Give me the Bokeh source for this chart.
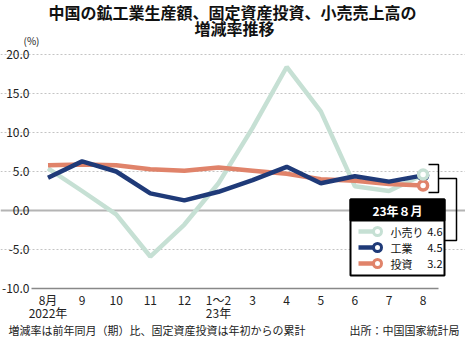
import numpy as np
from bokeh.plotting import figure
from bokeh.models import (Range1d, FixedTicker, PrintfTickFormatter, Grid, LinearAxis)
from bokeh.core.properties import value
from bokeh.embed import file_html
from bokeh.resources import INLINE

# ---- data ----
months = ["8月", "9", "10", "11", "12", "1～2", "3", "4", "5", "6", "7", "8"]
year_labels = {0: "2022年", 5: "23年"}
retail = [5.4, 2.5, -0.5, -5.9, -1.8, 3.5, 10.6, 18.4, 12.7, 3.1, 2.5, 4.6]
industry = [4.2, 6.3, 5.0, 2.2, 1.3, 2.4, 3.9, 5.6, 3.5, 4.4, 3.7, 4.5]
investment = [5.8, 5.9, 5.8, 5.3, 5.1, 5.5, 5.1, 4.7, 4.0, 3.8, 3.4, 3.2]
series_names = ["小売り", "工業", "投資"]
y_ticks = [-10, -5, 0, 5, 10, 15, 20]
title_lines = ["中国の鉱工業生産額、固定資産投資、小売売上高の", "増減率推移"]
unit_label = "(%)"
legend_title = "23年８月"
note_left = "増減率は前年同月（期）比、固定資産投資は年初からの累計"
note_right = "出所：中国国家統計局"

C_RETAIL = "#c6e0d4"
C_IND = "#1f3a78"
C_INV = "#e0836a"
FONT = "Noto Sans CJK JP"

x = np.arange(len(months))

# pixel -> data helpers (for decorations only)
X0, DX = 47.5, 34.1
Y0, DY = 210.0, 7.8
def X(px):
    return (px - X0) / DX
def Y(py):
    return (Y0 - py) / DY

p = figure(width=465, height=340, output_backend="svg", toolbar_location=None, title=None,
           x_range=Range1d(X(0), X(465)), y_range=Range1d(Y(340), Y(0)),
           x_axis_type=None, y_axis_type=None, min_border=0)
p.outline_line_color = None
p.background_fill_color = "white"
p.border_fill_color = "white"
p.xgrid.visible = False
p.ygrid.visible = False

def style_axis(ax, size="12px"):
    ax.major_tick_line_color = None
    ax.minor_tick_line_color = None
    ax.major_tick_out = 0
    ax.major_tick_in = 0
    ax.major_label_text_font = FONT
    ax.major_label_text_font_size = size
    ax.major_label_text_color = "#222222"

# y axis
yax = LinearAxis(fixed_location=X(31), ticker=FixedTicker(ticks=y_ticks),
                 formatter=PrintfTickFormatter(format="%.1f"))
style_axis(yax)
yax.axis_line_color = None
yax.major_label_standoff = 2
p.add_layout(yax, "left")

# x axis (month labels)
xax = LinearAxis(fixed_location=y_ticks[0], ticker=FixedTicker(ticks=list(x)),
                 major_label_overrides={int(i): m for i, m in zip(x, months)},
                 bounds=(X(31), X(438)))
style_axis(xax)
xax.axis_line_color = "#888888"
xax.axis_line_width = 1.5
xax.major_label_standoff = 2
p.add_layout(xax, "below")

# year labels
yrax = LinearAxis(fixed_location=y_ticks[0], ticker=FixedTicker(ticks=list(year_labels.keys())),
                  major_label_overrides=year_labels)
style_axis(yrax)
yrax.axis_line_color = None
yrax.major_label_standoff = 15
p.add_layout(yrax, "below")

# grids
g = Grid(dimension=1, ticker=FixedTicker(ticks=[t for t in y_ticks if t not in (0, -10)]),
         grid_line_color="#c4c4c4", grid_line_dash="2 2", grid_line_width=1,
         bounds=(X(31), X(446)))
p.add_layout(g)
g0 = Grid(dimension=1, ticker=FixedTicker(ticks=[0]), grid_line_color="#b4b4b4",
          grid_line_width=2, bounds=(X(31), X(446)))
p.add_layout(g0)

# lines
p.line(x, retail, line_color=C_RETAIL, line_width=4.5)
p.line(x, investment, line_color=C_INV, line_width=4.5)
p.line(x, industry, line_color=C_IND, line_width=4.5)

# end markers
p.scatter([x[-1]], [industry[-1]], size=9, fill_color="white", line_color=C_IND, line_width=3.5)
p.scatter([x[-1]], [investment[-1]], size=9, fill_color="white", line_color=C_INV, line_width=3.5)
p.scatter([x[-1]], [retail[-1]], size=9, fill_color="white", line_color=C_RETAIL, line_width=3.5)

# bracket and connector
p.line([X(428), X(438), X(438), X(428)], [Y(164), Y(164), Y(192), Y(192)],
       line_color="black", line_width=1.5)
p.line([X(438), X(456), X(456), X(444)], [Y(178), Y(178), Y(240), Y(240)],
       line_color="black", line_width=1.5)

# legend box
p.quad(left=X(350), right=X(444), top=Y(199), bottom=Y(275),
       fill_color="white", line_color="black", line_width=2)
p.quad(left=X(350), right=X(444), top=Y(199), bottom=Y(220),
       fill_color="black", line_color="black", line_width=2)

def txt(px, py, s, size, align="left", bold=False, color="#111111"):
    p.text([X(px)], [Y(py)], text=[s], text_font=value(FONT), text_font_size=size,
           text_font_style="bold" if bold else "normal", text_color=color,
           text_align=align, text_baseline="middle")

txt(397, 210, legend_title, "12px", align="center", bold=True, color="white")

rows_py = [231, 247, 263]
colors = [C_RETAIL, C_IND, C_INV]
vals = [retail[-1], industry[-1], investment[-1]]
for py, c, nm, v in zip(rows_py, colors, series_names, vals):
    p.segment(x0=[X(358)], y0=[Y(py)], x1=[X(378)], y1=[Y(py)], line_color=c, line_width=4.5)
    p.scatter([X(377)], [Y(py)], size=8, fill_color="white", line_color=c, line_width=3)
    txt(390, py, nm, "11px")
    txt(442, py, f"{v:.1f}", "11px", align="right")

# titles and notes
txt(232, 11, title_lines[0], "16px", align="center", bold=True)
txt(234, 27.5, title_lines[1], "16px", align="center", bold=True)
txt(31, 40, unit_label, "10px", align="center", color="#222222")
txt(8, 329, note_left, "11px", color="#222222")
txt(459, 329, note_right, "11px", align="right", color="#222222")

open("out.html", "w").write(file_html(p, INLINE))
